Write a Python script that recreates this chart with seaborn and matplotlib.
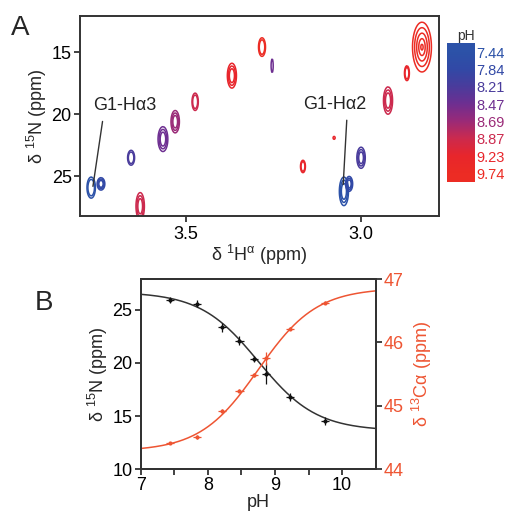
import numpy as np
import pandas as pd
import matplotlib
matplotlib.use("Agg")
import matplotlib.pyplot as plt
import seaborn as sns
from matplotlib.colors import LinearSegmentedColormap

# ==========================================
# Data
# ==========================================
ph_values = [7.44, 7.84, 8.21, 8.47, 8.69, 8.87, 9.23, 9.74]
ph_labels = ["7.44", "7.84", "8.21", "8.47", "8.69", "8.87", "9.23", "9.74"]
ph_colors = ["#2c52a8", "#3249a6", "#4a3c9c", "#6e2f91", "#9a2a78", "#cc2a4e", "#e8262c", "#ec2c24"]

# HSQC peaks (panel A)
peak_H = [3.771, 3.743, 3.657, 3.566, 3.531, 3.474, 3.369, 3.283, 3.631,
          3.254, 2.826, 2.869, 2.923, 3.077, 3.166, 3.000, 3.049, 3.034]
peak_N = [25.9, 25.6, 23.5, 22.0, 20.6, 19.0, 16.9, 14.6, 27.4,
          16.1, 14.6, 16.7, 18.9, 21.9, 24.2, 23.5, 26.2, 25.6]
peak_pH = [7.44, 7.84, 8.21, 8.47, 8.69, 8.87, 9.23, 9.74, 8.87,
           8.47, 9.74, 9.23, 8.87, 9.23, 9.23, 8.21, 7.44, 7.84]
peak_wH = [0.012, 0.011, 0.010, 0.014, 0.012, 0.009, 0.013, 0.010, 0.012,
           0.003, 0.027, 0.007, 0.013, 0.003, 0.007, 0.012, 0.013, 0.010]
peak_wN = [0.85, 0.5, 0.6, 1.0, 0.9, 0.7, 1.0, 0.75, 1.1,
           0.55, 2.0, 0.6, 1.1, 0.12, 0.5, 0.85, 1.15, 0.6]
peak_rings = [2, 3, 2, 3, 3, 2, 3, 2, 3, 1, 5, 2, 3, 1, 2, 3, 3, 3]

# Titration (panel B)
titr_pH = [7.44, 7.84, 8.21, 8.47, 8.69, 8.87, 9.23, 9.74]
n15_shift = [25.95, 25.6, 23.35, 22.1, 20.4, 19.0, 16.8, 14.55]
n15_err = [0.3, 0.3, 0.4, 0.4, 0.3, 0.95, 0.4, 0.4]
c13_shift = [44.41, 44.51, 44.92, 45.24, 45.48, 45.75, 46.22, 46.63]
c13_err = [0.02, 0.03, 0.03, 0.03, 0.03, 0.1, 0.03, 0.03]
ph_err = [0.06, 0.06, 0.06, 0.06, 0.06, 0.06, 0.06, 0.06]

# Henderson-Hasselbalch fit parameters
pKa = 8.75
n15_acid, n15_base = 26.7, 13.6
c13_acid, c13_base = 44.28, 46.86

# ==========================================
# Style
# ==========================================
sns.set_style("ticks")
plt.rcParams['font.family'] = ['Liberation Sans', 'DejaVu Sans']
plt.rcParams['mathtext.fontset'] = 'custom'
plt.rcParams['mathtext.rm'] = 'Liberation Sans'
dark = "#333333"
red = "#ee5533"
fs = 13

cmap = LinearSegmentedColormap.from_list("ph", ph_colors)
ph_norm = plt.Normalize(0, len(ph_values) - 1)

def ph_color(p):
    return cmap(ph_norm(ph_values.index(p)))

fig = plt.figure(figsize=(5.16, 5.16), dpi=100)

# ==========================================
# Panel A: HSQC overlay
# ==========================================
axA = fig.add_axes([0.155, 0.581, 0.696, 0.388])
hh, nn = np.meshgrid(np.linspace(2.76, 3.82, 500), np.linspace(12.0, 28.4, 500))
for h0, n0, p, wh, wn, k in zip(peak_H, peak_N, peak_pH, peak_wH, peak_wN, peak_rings):
    r = np.sqrt(((hh - h0) / wh) ** 2 + ((nn - n0) / wn) ** 2)
    levels = sorted([1.0 - 0.22 * i for i in range(k)])
    axA.contour(hh, nn, r, levels=levels, colors=[ph_color(p)], linewidths=1.1)

axA.set_xlim(3.803, 2.777)
axA.set_ylim(28.2, 12.1)
axA.set_xticks([3.5, 3.0])
axA.set_yticks([15, 20, 25])
axA.set_xticklabels(["3.5", "3.0"])
axA.tick_params(labelsize=fs, width=1.3, length=4, pad=2, colors=dark, labelcolor="black")
axA.tick_params(axis="x", pad=3)
for s in axA.spines.values():
    s.set_color(dark)
    s.set_linewidth(1.4)
axA.set_xlabel(r'δ $\mathregular{^1}$H$\mathregular{^α}$ (ppm)', fontsize=fs, labelpad=0)
axA.set_ylabel(r'δ $\mathregular{^{15}}$N (ppm)', fontsize=fs, labelpad=2)

axA.annotate("G1-Hα3", xy=(3.766, 25.8), xytext=(3.674, 19.3), fontsize=fs,
             ha="center", va="center", color="#222222",
             arrowprops=dict(arrowstyle="-", color=dark, lw=1, shrinkA=3, shrinkB=0,
                             relpos=(0.16, 0.0)))
axA.annotate("G1-Hα2", xy=(3.051, 25.65), xytext=(3.074, 19.2), fontsize=fs,
             ha="center", va="center", color="#222222",
             arrowprops=dict(arrowstyle="-", color=dark, lw=1, shrinkA=3, shrinkB=0,
                             relpos=(0.69, 0.0)))
fig.text(0.022, 0.945, "A", fontsize=20, va="center")

# pH colour bar
cax = fig.add_axes([0.866, 0.647, 0.054, 0.269])
cax.imshow(np.arange(len(ph_values)).reshape(-1, 1), cmap=cmap, aspect="auto",
           interpolation="bilinear")
cax.set_xticks([])
cax.set_yticks(range(len(ph_values)))
cax.set_yticklabels(ph_labels, fontsize=10.5)
cax.yaxis.tick_right()
cax.tick_params(axis="y", length=0, pad=1)
for lab, p in zip(cax.get_yticklabels(), ph_values):
    lab.set_color(ph_color(p))
for s in cax.spines.values():
    s.set_visible(False)
cax.set_title("pH", fontsize=10, color=dark, pad=1, loc="right")

# ==========================================
# Panel B: pH titration
# ==========================================
axB = fig.add_axes([0.273, 0.091, 0.455, 0.368])
axB2 = axB.twinx()

fit_pH = np.linspace(7.0, 10.5, 300)
frac = 10 ** (fit_pH - pKa) / (1 + 10 ** (fit_pH - pKa))
fit_df = pd.DataFrame({"pH": fit_pH,
                       "n15": n15_acid + (n15_base - n15_acid) * frac,
                       "c13": c13_acid + (c13_base - c13_acid) * frac})

sns.lineplot(data=fit_df, x="pH", y="n15", ax=axB, color=dark, lw=1.1)
sns.lineplot(data=fit_df, x="pH", y="c13", ax=axB2, color=red, lw=1.1)
axB.errorbar(titr_pH, n15_shift, xerr=ph_err, yerr=n15_err, fmt=".", ms=4,
             color="#111111", elinewidth=0.9, capsize=0)
axB2.errorbar(titr_pH, c13_shift, xerr=ph_err, yerr=c13_err, fmt=".", ms=4,
              color=red, elinewidth=0.9, capsize=0)

axB.set_xlim(7, 10.5)
axB.set_ylim(10, 27.9)
axB2.set_ylim(44, 47)
axB.set_xticks([7, 8, 9, 10])
axB.set_xticks([7.5, 8.5, 9.5], minor=True)
axB.set_yticks([10, 15, 20, 25])
axB2.set_yticks([44, 45, 46, 47])
axB.tick_params(labelsize=fs, width=1.3, length=4, pad=2, colors=dark, labelcolor="black")
axB.tick_params(which="minor", width=1.3, length=4, colors=dark)
axB2.tick_params(labelsize=fs, width=1.3, length=4, pad=2, colors=dark, labelcolor=red)
for s in list(axB.spines.values()) + list(axB2.spines.values()):
    s.set_color(dark)
    s.set_linewidth(1.4)
axB.set_xlabel("pH", fontsize=fs, labelpad=0)
axB.set_ylabel(r'δ $\mathregular{^{15}}$N (ppm)', fontsize=fs, labelpad=2)
axB2.set_ylabel(r'δ $\mathregular{^{13}}$Cα (ppm)', fontsize=fs, color=red, labelpad=4)
fig.text(0.068, 0.413, "B", fontsize=20, va="center")

fig.savefig("out.png", dpi=100)
